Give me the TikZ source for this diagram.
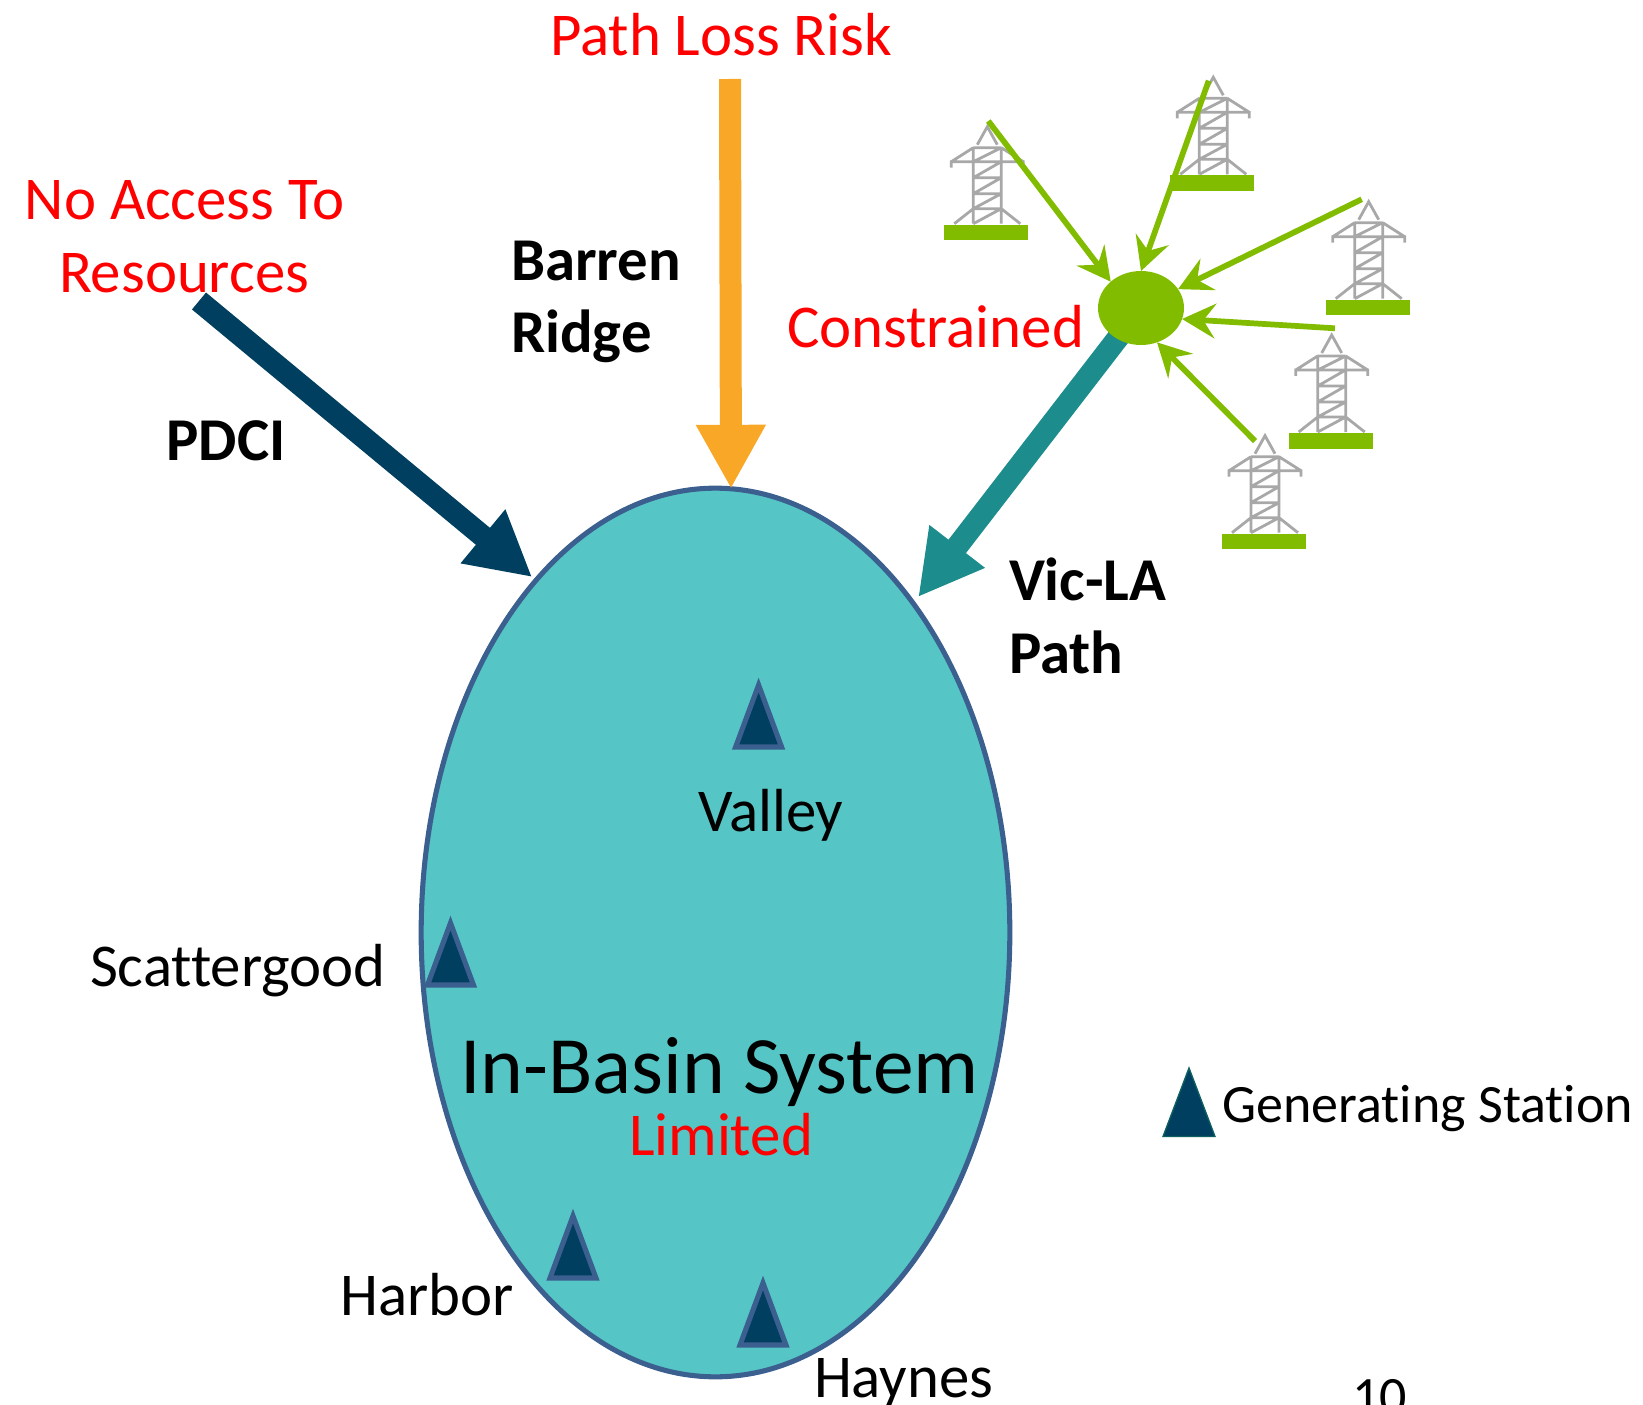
\documentclass[tikz,border=0pt]{standalone}
\usepackage{fontspec}
\setmainfont{Carlito}[Ligatures=NoCommon]
\usetikzlibrary{arrows.meta,shapes.geometric,backgrounds}
\definecolor{basinfill}{HTML}{56C5C5}
\definecolor{basinline}{HTML}{3B5F8F}
\definecolor{navyc}{HTML}{003F5F}
\definecolor{orangec}{HTML}{F9A727}
\definecolor{tealc}{HTML}{1C8C8C}
\definecolor{greenc}{HTML}{82BC00}
\definecolor{towerc}{HTML}{A8A8A8}
\definecolor{legendline}{HTML}{0F6060}
\tikzset{
  x=0.75pt,y=-0.75pt,
  lbl/.style={anchor=base west,inner sep=0pt,outer sep=0pt,font=\fontsize{45.6}{54}\selectfont},
  redlbl/.style={lbl,text=red},
  boldlbl/.style={lbl,font=\fontsize{45.6}{54}\selectfont\bfseries},
  bigarrow/.style={line width=16.5pt,-{Triangle[length=48pt,width=49pt]}},
  feed/.style={draw=greenc,line width=4.3pt,-{Stealth[length=25pt,width=26pt,inset=9pt]}},
  gen/.pic={\draw[fill=navyc,draw=basinline,line width=3.8pt,line join=miter] (0,0) -- (23,62) -- (-23,62) -- cycle;},
  tower/.pic={
    \draw[towerc,line width=2.1pt]
      (-10,18) -- (0,0) -- (10,18)
      (-14,21) -- (14,21)
      (-14,21) -- (-14,97) (14,21) -- (14,97)
      (-36,41) -- (-36,35) -- (36,35) -- (36,41)
      (-36,35) -- (-14,21) (14,21) -- (36,35)
      (-14,51) -- (14,51) (-14,67) -- (14,67) (-14,82) -- (14,82)
      (-14,35) -- (14,21) (-14,51) -- (14,35) (-14,67) -- (14,51)
      (-14,82) -- (14,67) (-14,97) -- (14,82)
      (-33,97) -- (-14,82) (14,82) -- (33,97);
    \fill[greenc] (-43,98) -- (41,98) -- (41,113.5) -- (-43,113.5) -- cycle;
  }
}
\begin{document}
\begin{tikzpicture}
\useasboundingbox (0,0) rectangle (1643,1405);
\node[ellipse,draw=basinline,fill=basinfill,line width=3.8pt,minimum width=441.5pt,minimum height=666.5pt,inner sep=0pt,outer sep=0pt] (basin) at (715.5,932.5) {};

\pic at (987.3,126.7) {tower};
\pic at (1213.3,77.3) {tower};
\pic at (1368.7,201.7) {tower};
\pic at (1331.7,335) {tower};
\pic at (1265,435.7) {tower};

\node[ellipse,fill=greenc,minimum width=64.5pt,minimum height=55.5pt,inner sep=0pt,outer sep=0pt] (hub) at (1141,308) {};
\begin{scope}[on background layer]
\draw[bigarrow,draw=tealc,fill=tealc,shorten >=6pt] (hub.center) -- (basin.59.1);
\end{scope}

\coordinate (s1) at (988.3,121);
\coordinate (s2) at (1208.7,80.7);
\coordinate (s3) at (1361.7,199.3);
\coordinate (s4) at (1335,328.3);
\coordinate (s5) at (1255,441);
\draw[feed,fill=greenc] (s1) -- (hub.139);
\draw[feed,fill=greenc] (s2) -- (hub.90);
\draw[feed,fill=greenc] (s3) -- (hub.27);
\draw[feed,fill=greenc] (s4) -- (hub.-15);
\draw[feed,fill=greenc] (s5) -- (hub.-65);

\coordinate (pdcistart) at (199,301);
\coordinate (brstart) at (730,79);
\draw[bigarrow,draw=navyc,fill=navyc,shorten >=3.75pt] (pdcistart) -- (basin.117.6);
\draw[bigarrow,draw=orangec,fill=orangec,line width=16.5pt] (brstart) -- (basin.88.13);

\pic at (758.6,685) {gen};
\pic at (450.5,923) {gen};
\pic at (573,1216) {gen};
\pic at (763,1283) {gen};
\draw[fill=navyc,draw=legendline,line width=1pt] (1189,1068) -- (1215,1136.5) -- (1163,1136.5) -- cycle;

\node[redlbl] (pathloss) at (550,55.5) {Path Loss Risk};
\node[redlbl] (noaccess) at (25,220) {No Access To};
\node[redlbl] (resources) at (59,293) {Resources};
\node[boldlbl] (barren) at (511,281) {Barren};
\node[boldlbl] (ridge) at (511,353) {Ridge};
\node[boldlbl] (pdci) at (166.6,460) {PDCI};
\node[redlbl] (constrained) at (787,348) {Constrained};
\node[boldlbl] (vicla) at (1009,600) {Vic-LA};
\node[boldlbl] (path) at (1009,673) {Path};
\node[lbl] (valley) at (698,831) {Valley};
\node[lbl] (scatter) at (90,986) {Scattergood};
\node[lbl,font=\fontsize{61.1}{70}\selectfont] (insys) at (460,1093) {In-Basin System};
\node[redlbl] (limited) at (629,1155) {Limited};
\node[lbl] (harbor) at (340.5,1315) {Harbor};
\node[lbl] (haynes) at (814,1397) {Haynes};
\node[lbl,font=\fontsize{40.5}{48}\selectfont] (legend) at (1222.5,1122) {Generating Station};
\node[lbl,font=\fontsize{40.5}{48}\selectfont] (pagenum) at (1352,1414) {10};
\end{tikzpicture}
\end{document}
